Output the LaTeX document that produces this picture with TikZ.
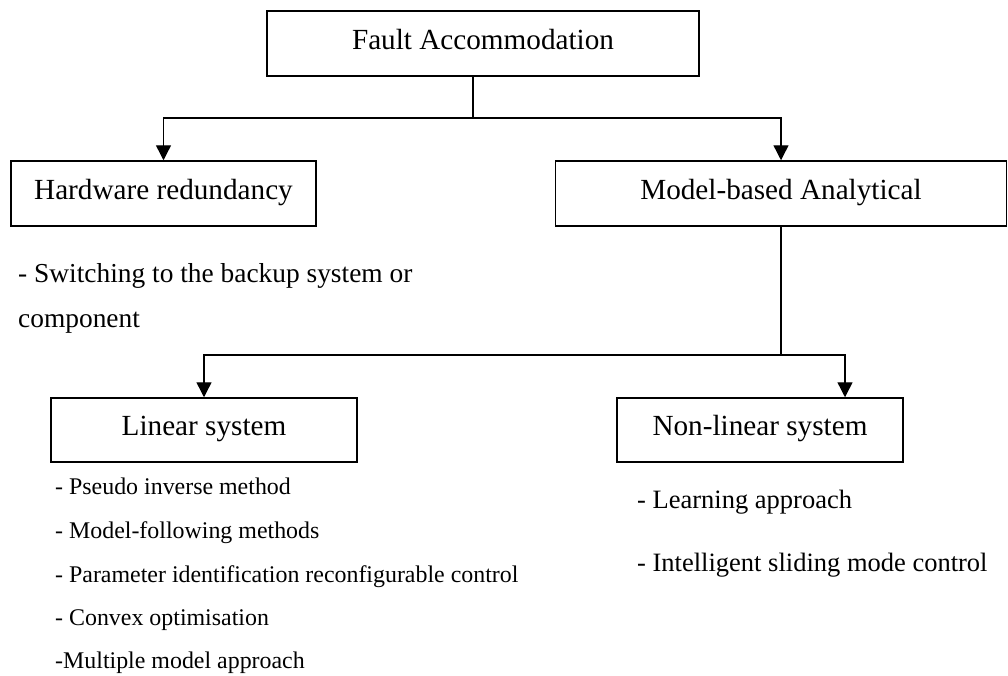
\documentclass[tikz,border=0pt]{standalone}
\usepackage{fontspec}
\setmainfont{Liberation Serif}
\usepackage{tikz}
\usetikzlibrary{arrows.meta}
\usetikzlibrary{positioning}

\begin{document}
\begin{tikzpicture}[x=1pt, y=-1pt]
\tikzset{BoxStyle/.style = {draw, line width=1.5pt, inner sep=0pt, minimum height=65pt,
    font=\fontsize{29.2}{35}\selectfont, text height=20.4pt, text depth=8.8pt}}
\tikzset{ArrowStyle/.style = {-{Triangle[width=15pt, length=15pt]}, line width=1.4pt}}
\tikzset{LineStyle/.style = {line width=1.4pt}}
\tikzset{ListStyle/.style = {anchor=base west, inner sep=0pt}}
	\useasboundingbox (0,0) rectangle (1008,675);
	\node[BoxStyle, minimum width=432pt] (fault) at (483,43.5) {Fault Accommodation};
	\node[BoxStyle, minimum width=305pt] (hw) at (163.5,193.5) {Hardware redundancy};
	\node[BoxStyle, minimum width=451pt] (mb) at (781,193.5) {Model-based Analytical};
	\node[BoxStyle, minimum width=306pt, minimum height=64pt] (lin) at (204,430) {Linear system};
	\node[BoxStyle, minimum width=286pt, minimum height=64pt] (nl) at (760,430) {Non-linear system};
	\coordinate (top) at (473,118);
	\coordinate (mid) at (781,355);
	\coordinate (right) at (845,355);
	\draw[LineStyle] (fault.south -| top) -- (top);
	\draw[ArrowStyle] (top) -| (hw.north);
	\draw[ArrowStyle] (top) -| (mb.north);
	\draw[LineStyle] (mb.south) -- (mid);
	\draw[ArrowStyle] (mid) -| (lin.north);
	\draw[ArrowStyle] (mid) -- (right) -- (right |- nl.north);
	% list under hardware redundancy
	\node[ListStyle, font=\fontsize{27.4}{33}\selectfont] (hw1) at (18,282.5) {- Switching to the backup system or};
	\node[ListStyle, font=\fontsize{27.4}{33}\selectfont] (hw2) at (18,327) {component};
	% list under linear system
	\node[ListStyle, font=\fontsize{23.9}{29}\selectfont] (lin1) at (55,494) {- Pseudo inverse method};
	\node[ListStyle, font=\fontsize{23.9}{29}\selectfont] (lin2) at (55,538) {- Model-following methods};
	\node[ListStyle, font=\fontsize{23.9}{29}\selectfont] (lin3) at (55,582) {- Parameter identification reconfigurable control};
	\node[ListStyle, font=\fontsize{23.9}{29}\selectfont] (lin4) at (55,625) {- Convex optimisation};
	\node[ListStyle, font=\fontsize{23.9}{29}\selectfont] (lin5) at (55,668) {-Multiple model approach};
	% list under non-linear system
	\node[ListStyle, font=\fontsize{26.5}{32}\selectfont] (nl1) at (637,508) {- Learning approach};
	\node[ListStyle, font=\fontsize{26.5}{32}\selectfont] (nl2) at (637,571) {- Intelligent sliding mode control};
\end{tikzpicture}
\end{document}
